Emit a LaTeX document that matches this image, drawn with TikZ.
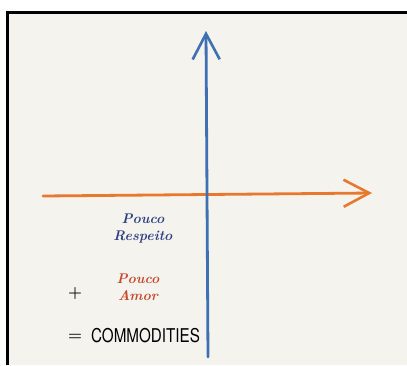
\documentclass[tikz,border=0pt]{standalone}
\usepackage{fontspec}
\usetikzlibrary{arrows.meta}
\definecolor{paper}{HTML}{F5F3EE}
\definecolor{axblue}{HTML}{3F70B2}
\definecolor{axorange}{HTML}{E8782E}
\definecolor{inkblue}{HTML}{2E4180}
\definecolor{inkred}{HTML}{C9472F}
\newfontfamily\capsfont{TeX Gyre Heros}
\tikzset{
  axisline/.style={
    line width=2.8pt, line cap=round,
    -{Straight Barb[length=9mm,width=9.5mm,line width=2.6pt]}
  },
  hand/.style={font=\fontsize{14}{16}\selectfont\bfseries\itshape, align=center, inner sep=0pt}
}

\begin{document}
\begin{tikzpicture}[x=1pt,y=-1pt]
  \useasboundingbox (0,0) rectangle (407,365);
  \fill[white] (0,0) rectangle (407,365);
  \fill[paper] (7,12) rectangle (407,365);
  \draw[line width=3pt] (7,365)--(7,12)--(407,12);   % frame
  % axes
  \coordinate (xleft) at (43,196);
  \coordinate (xright) at (372,193);
  \coordinate (ybot) at (208,357);
  \coordinate (ytop) at (206,31);
  \draw[axisline, axorange] (xleft) -- (xright);
  \draw[axisline, axblue] (ybot) -- (ytop);
  % labels
  \node[hand, text=inkblue] (resp) at (143,229) {Pouco\\[1pt]Respeito};
  \node[hand, text=inkred] (amor) at (138,287) {Pouco\\[1pt]Amor};
  \node[font=\fontsize{16}{17}\selectfont\bfseries, inner sep=0pt] (plus) at (75,294) {+};
  \node[font=\fontsize{16}{17}\selectfont\bfseries, inner sep=0pt] (eq) at (75,337) {=};
  \node[font=\fontsize{19}{20}\capsfont, xscale=0.8, anchor=west, inner sep=0pt] (comm) at (91,336) {COMMODITIES};
\end{tikzpicture}
\end{document}
